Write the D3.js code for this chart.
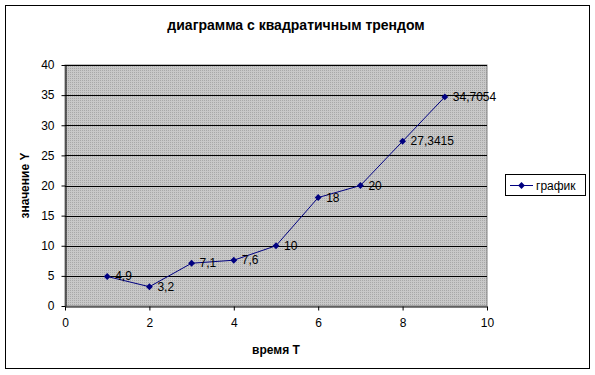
<!DOCTYPE html>
<html>
<head>
<meta charset="utf-8">
<script src="https://cdn.jsdelivr.net/npm/d3@7"></script>
<style>
  body { margin: 0; background: #fff; }
  svg { display: block; font-family: "Liberation Sans", Arial, sans-serif; }
</style>
</head>
<body>
<svg id="chart" width="595" height="375"></svg>
<script>
const times = [1, 2, 3, 4, 5, 6, 7, 8, 9];
const values = [4.9, 3.2, 7.1, 7.6, 10, 18, 20, 27.3415, 34.7054];
const valueLabels = ['4,9', '3,2', '7,1', '7,6', '10', '18', '20', '27,3415', '34,7054'];
const xTicks = [0, 2, 4, 6, 8, 10];
const yTicks = [0, 5, 10, 15, 20, 25, 30, 35, 40];
const title = 'диаграмма с квадратичным трендом';
const xTitle = 'время T';
const yTitle = 'значение Y';
const seriesName = 'график';

const dims = {left: 65, right: 487, top: 65, bottom: 306};
const svg = d3.select('#chart');

// outer frame
svg.append('rect')
   .attr('x', 5.5).attr('y', 5.5)
   .attr('width', 584).attr('height', 363)
   .attr('fill', '#fff').attr('stroke', '#000').attr('stroke-width', 1);

// dotted gray fill like Excel plot area
const defs = svg.append('defs');
const pat = defs.append('pattern')
   .attr('id', 'dots').attr('width', 2).attr('height', 2)
   .attr('patternUnits', 'userSpaceOnUse');
pat.append('rect').attr('width', 2).attr('height', 2).attr('fill', '#c8c8c8');
pat.append('rect').attr('width', 1).attr('height', 1).attr('fill', '#a8a8a8');

const x = d3.scaleLinear().domain([0, 10]).range([dims.left, dims.right]);
const y = d3.scaleLinear().domain([0, 40]).range([dims.bottom, dims.top]);

svg.append('rect')
   .attr('x', dims.left).attr('y', dims.top)
   .attr('width', dims.right - dims.left).attr('height', dims.bottom - dims.top)
   .attr('fill', 'url(#dots)').attr('stroke', '#808080');

// gridlines
svg.append('g')
   .selectAll('line')
   .data(yTicks.filter(d => d > 0))
   .enter()
   .append('line')
   .attr('x1', dims.left).attr('x2', dims.right)
   .attr('y1', d => Math.round(y(d)) + 0.5).attr('y2', d => Math.round(y(d)) + 0.5)
   .attr('stroke', '#000');

// axes
const xAxis = d3.axisBottom(x).tickValues(xTicks).tickSize(4).tickSizeOuter(0);
const xg = svg.append('g')
   .attr('transform', `translate(0,${dims.bottom + 0.5})`)
   .call(xAxis);
xg.selectAll('text').attr('font-size', 12).attr('fill', '#000').attr('dy', '1.1em')
   .attr('font-family', '"Liberation Sans", Arial, sans-serif');
xg.selectAll('line').attr('stroke', '#000');
xg.select('.domain').attr('stroke', '#000');

const yAxis = d3.axisLeft(y).tickValues(yTicks).tickSize(4).tickSizeOuter(0);
const yg = svg.append('g')
   .attr('transform', `translate(${dims.left + 0.5},0)`)
   .call(yAxis);
yg.selectAll('text').attr('font-size', 12).attr('fill', '#000').attr('x', -11)
   .attr('font-family', '"Liberation Sans", Arial, sans-serif');
yg.selectAll('line').attr('stroke', '#000');
yg.select('.domain').attr('stroke', '#000');

// titles
svg.append('text')
   .attr('x', 296).attr('y', 30)
   .attr('text-anchor', 'middle')
   .attr('font-size', 14).attr('font-weight', 'bold')
   .text(title);
svg.append('text')
   .attr('x', (dims.left + dims.right) / 2).attr('y', 354)
   .attr('text-anchor', 'middle')
   .attr('font-size', 12).attr('font-weight', 'bold')
   .text(xTitle);
svg.append('text')
   .attr('transform', `translate(29,${(dims.top + dims.bottom) / 2}) rotate(-90)`)
   .attr('text-anchor', 'middle')
   .attr('font-size', 12).attr('font-weight', 'bold')
   .text(yTitle);

// series
const pts = times.map((t, i) => ({t, v: values[i], label: valueLabels[i]}));
const line = d3.line().x(d => x(d.t)).y(d => y(d.v));
svg.append('path')
   .attr('d', line(pts))
   .attr('fill', 'none').attr('stroke', '#000080').attr('stroke-width', 1);

const diamond = d3.symbol().type(d3.symbolDiamond2).size(30);
svg.append('g')
   .selectAll('path')
   .data(pts)
   .enter()
   .append('path')
   .attr('d', diamond)
   .attr('transform', d => `translate(${x(d.t)},${y(d.v)})`)
   .attr('fill', '#000080');

svg.append('g')
   .selectAll('text')
   .data(pts)
   .enter()
   .append('text')
   .attr('x', d => x(d.t) + 8).attr('y', d => y(d.v) + 4)
   .attr('font-size', 12).attr('fill', '#000')
   .text(d => d.label);

// legend
const lg = svg.append('g').attr('transform', 'translate(505,174)');
lg.append('rect')
   .attr('x', 0.5).attr('y', 0.5).attr('width', 80).attr('height', 21)
   .attr('fill', '#fff').attr('stroke', '#000');
lg.append('line')
   .attr('x1', 5).attr('x2', 28).attr('y1', 11.5).attr('y2', 11.5)
   .attr('stroke', '#000080');
lg.append('path')
   .attr('d', diamond)
   .attr('transform', 'translate(16.5,11.5)')
   .attr('fill', '#000080');
lg.append('text')
   .attr('x', 31).attr('y', 16)
   .attr('font-size', 12)
   .text(seriesName);
</script>
</body>
</html>
